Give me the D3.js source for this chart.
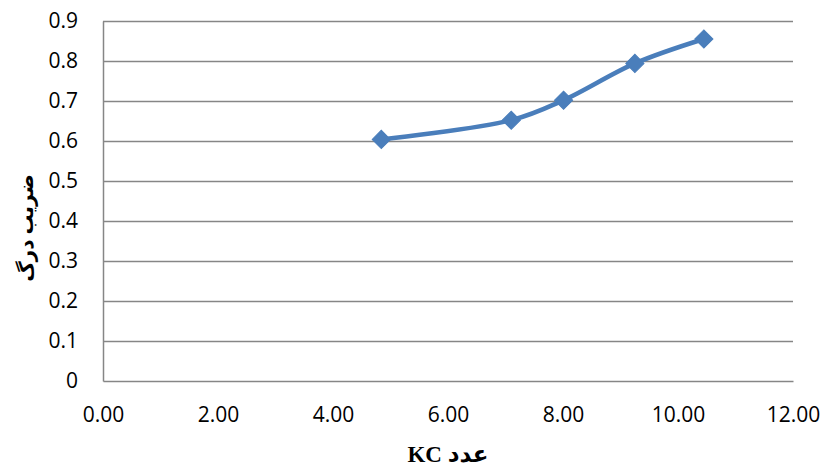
<!DOCTYPE html>
<html>
<head>
<meta charset="utf-8">
<script src="https://cdn.jsdelivr.net/npm/d3@7"></script>
<style>
  html, body { margin: 0; padding: 0; background: #fff; }
  #chart { width: 823px; height: 466px; }
  .tick text { font-family: "Open Sans", "Liberation Sans", sans-serif; font-size: 21px; fill: #000; }
  .title { font-family: "Liberation Serif", "DejaVu Serif", "DejaVu Sans", serif; font-weight: bold; fill: #000; }
</style>
</head>
<body>
<div id="chart"></div>
<script>
// KC number vs drag coefficient
const kcValues = [4.84, 7.10, 8.01, 9.25, 10.45]
const dragValues = [0.604, 0.652, 0.702, 0.794, 0.855]
const xTicks = [0, 2, 4, 6, 8, 10, 12]
const yTicks = [0, 0.1, 0.2, 0.3, 0.4, 0.5, 0.6, 0.7, 0.8, 0.9]
const xTitle = "عدد KC"
const yTitle = "ضریب درگ"

const data = kcValues.map((k, i) => ({ kc: k, cd: dragValues[i] }))

const width = 823
const height = 466
const margin = { top: 21, right: 30, bottom: 85, left: 103 }

const svg = d3.select("#chart")
  .append("svg")
  .attr("width", width)
  .attr("height", height)

const x = d3.scaleLinear()
  .domain([0, 12])
  .range([margin.left, width - margin.right])

const y = d3.scaleLinear()
  .domain([0, 0.9])
  .range([height - margin.bottom, margin.top])

// Gridlines
svg.append("g")
  .selectAll("line")
  .data(yTicks.slice(1))
  .join("line")
  .attr("x1", margin.left)
  .attr("x2", width - margin.right)
  .attr("y1", d => Math.round(y(d)) + 0.5)
  .attr("y2", d => Math.round(y(d)) + 0.5)
  .attr("stroke", "#868686")
  .attr("stroke-width", 1.5)

// Axes
const yAxis = svg.append("g")
  .attr("transform", `translate(${margin.left},0)`)
  .call(d3.axisLeft(y).tickValues(yTicks).tickSize(0).tickPadding(25)
    .tickFormat(d => d === 0 ? "0" : d3.format(".1f")(d)))
yAxis.select(".domain").attr("stroke", "#868686").attr("stroke-width", 1.5)

const xAxis = svg.append("g")
  .attr("transform", `translate(0,${height - margin.bottom})`)
  .call(d3.axisBottom(x).tickValues(xTicks).tickSize(0).tickPadding(26)
    .tickFormat(d3.format(".2f")))
xAxis.select(".domain").attr("stroke", "#868686").attr("stroke-width", 1.5)

// Smoothed line
const line = d3.line()
  .x(d => x(d.kc))
  .y(d => y(d.cd))
  .curve(d3.curveCatmullRom.alpha(0.5))

svg.append("path")
  .datum(data)
  .attr("fill", "none")
  .attr("stroke", "#4a7ebb")
  .attr("stroke-width", 4.5)
  .attr("stroke-linecap", "round")
  .attr("d", line)

// Diamond markers
const diamond = d3.symbol(d3.symbolSquare, 165)

svg.append("g")
  .selectAll("path")
  .data(data)
  .join("path")
  .attr("d", diamond)
  .attr("transform", d => `translate(${x(d.kc)},${y(d.cd)}) rotate(45)`)
  .attr("fill", "#4a7ebb")
  .attr("stroke", "#4a7ebb")
  .attr("stroke-width", 1)

// Axis titles
svg.append("text")
  .attr("class", "title")
  .attr("x", (margin.left + width - margin.right) / 2)
  .attr("y", 462)
  .attr("text-anchor", "middle")
  .attr("direction", "rtl")
  .style("font-size", "23px")
  .text(xTitle)

svg.append("text")
  .attr("class", "title")
  .attr("transform", `translate(33,${228}) rotate(-90)`)
  .attr("text-anchor", "middle")
  .style("font-size", "20px")
  .text(yTitle)
</script>
</body>
</html>
